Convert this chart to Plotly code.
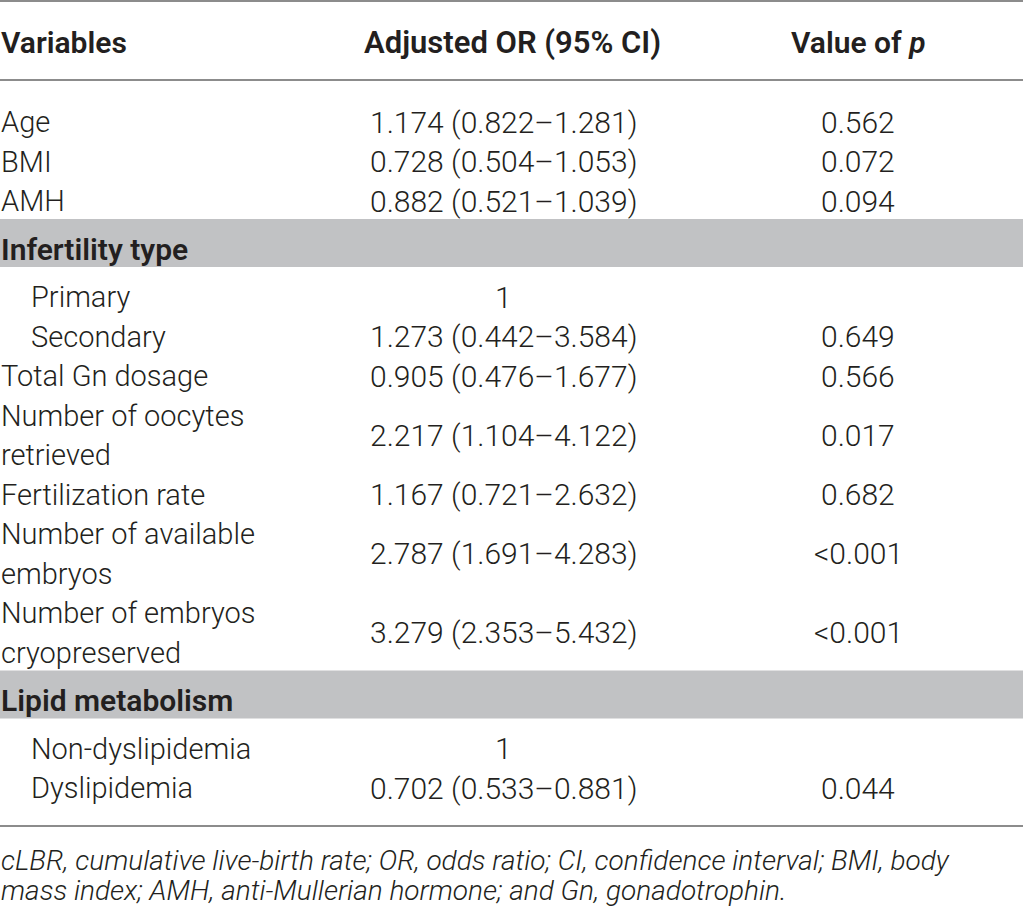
import plotly.graph_objects as go

# table content
headers = ["Variables", "Adjusted OR (95% CI)", "Value of <i>p</i>"]
variables = [
    "Age", "BMI", "AMH",
    "Infertility type",
    "Primary", "Secondary",
    "Total Gn dosage",
    "Number of oocytes\nretrieved",
    "Fertilization rate",
    "Number of available\nembryos",
    "Number of embryos\ncryopreserved",
    "Lipid metabolism",
    "Non-dyslipidemia", "Dyslipidemia",
]
row_kind = ["main", "main", "main", "group", "sub", "sub", "main", "main",
            "main", "main", "main", "group", "sub", "sub"]
or_ci = [
    "1.174 (0.822–1.281)", "0.728 (0.504–1.053)", "0.882 (0.521–1.039)",
    "",
    "1", "1.273 (0.442–3.584)",
    "0.905 (0.476–1.677)",
    "2.217 (1.104–4.122)",
    "1.167 (0.721–2.632)",
    "2.787 (1.691–4.283)",
    "3.279 (2.353–5.432)",
    "",
    "1", "0.702 (0.533–0.881)",
]
p_values = ["0.562", "0.072", "0.094", "", "", "0.649", "0.566", "0.017",
            "0.682", "<0.001", "<0.001", "", "", "0.044"]
footnote = [
    "cLBR, cumulative live-birth rate; OR, odds ratio; CI, confidence interval; BMI, body",
    "mass index; AMH, anti-Mullerian hormone; and Gn, gonadotrophin.",
]

W, H = 1023, 913
FONT = "Roboto"
TXT = "#231f20"
RULE = "#8c8c8c"
BAND = "#c1c2c4"
fs = 30
label_fs = 29
line_h = 39.5
group_gap = 48
x_label, x_sub, x_or, x_p = 0, 30, 503, 858

fig = go.Figure()
ann = []
shapes = []


def text(x, y, s, anchor="left", bold=False, italic=False, size=fs):
    if italic:
        s = "<i>" + s + "</i>"
    ann.append(dict(x=x, y=y, xref="x", yref="y", text=s, showarrow=False,
                    xanchor=anchor, yanchor="middle", borderpad=0,
                    font=dict(family=FONT, size=size, color=TXT,
                              weight=600 if bold else 300)))


def rule(y):
    shapes.append(dict(type="line", x0=0, x1=W, y0=y, y1=y, xref="x", yref="y",
                       line=dict(color=RULE, width=2)))


# header
rule(1)
text(x_label, 42, headers[0], bold=True)
text(512, 42, headers[1], anchor="center", bold=True, size=31)
text(x_p, 42, headers[2], anchor="center", bold=True)
rule(80)

y = 122 - line_h
prev_group = False
for name, kind, orv, pv in zip(variables, row_kind, or_ci, p_values):
    lines = name.split("\n")
    if kind == "group":
        y += group_gap
        shapes.append(dict(type="rect", x0=0, x1=W, y0=y - 30, y1=y + 18,
                           xref="x", yref="y", fillcolor=BAND, line_width=0,
                           layer="below"))
        text(x_label, y, name, bold=True)
        prev_group = True
        continue
    y += group_gap if prev_group else line_h
    prev_group = False
    x0 = x_sub if kind == "sub" else x_label
    ys = [y + i * line_h for i in range(len(lines))]
    for yy, ln in zip(ys, lines):
        text(x0, yy, ln, size=label_fs)
    mid = sum(ys) / len(ys)
    if orv:
        text(x_or, mid, orv, anchor="center")
    if pv:
        text(x_p, mid, pv.replace("<", "&lt;"), anchor="center")
    y = ys[-1]

rule(826)
text(x_label, 860, footnote[0], italic=True, size=28)
text(x_label, 890, footnote[1], italic=True, size=28)

fig.update_layout(
    width=W, height=H,
    margin=dict(l=0, r=0, t=0, b=0),
    paper_bgcolor="white", plot_bgcolor="white",
    xaxis=dict(range=[0, W], visible=False, fixedrange=True),
    yaxis=dict(range=[H, 0], visible=False, fixedrange=True),
    annotations=ann, shapes=shapes, showlegend=False,
)
fig.write_html("out.html", config={"displayModeBar": False},
               post_script="document.body.style.margin='0';")
